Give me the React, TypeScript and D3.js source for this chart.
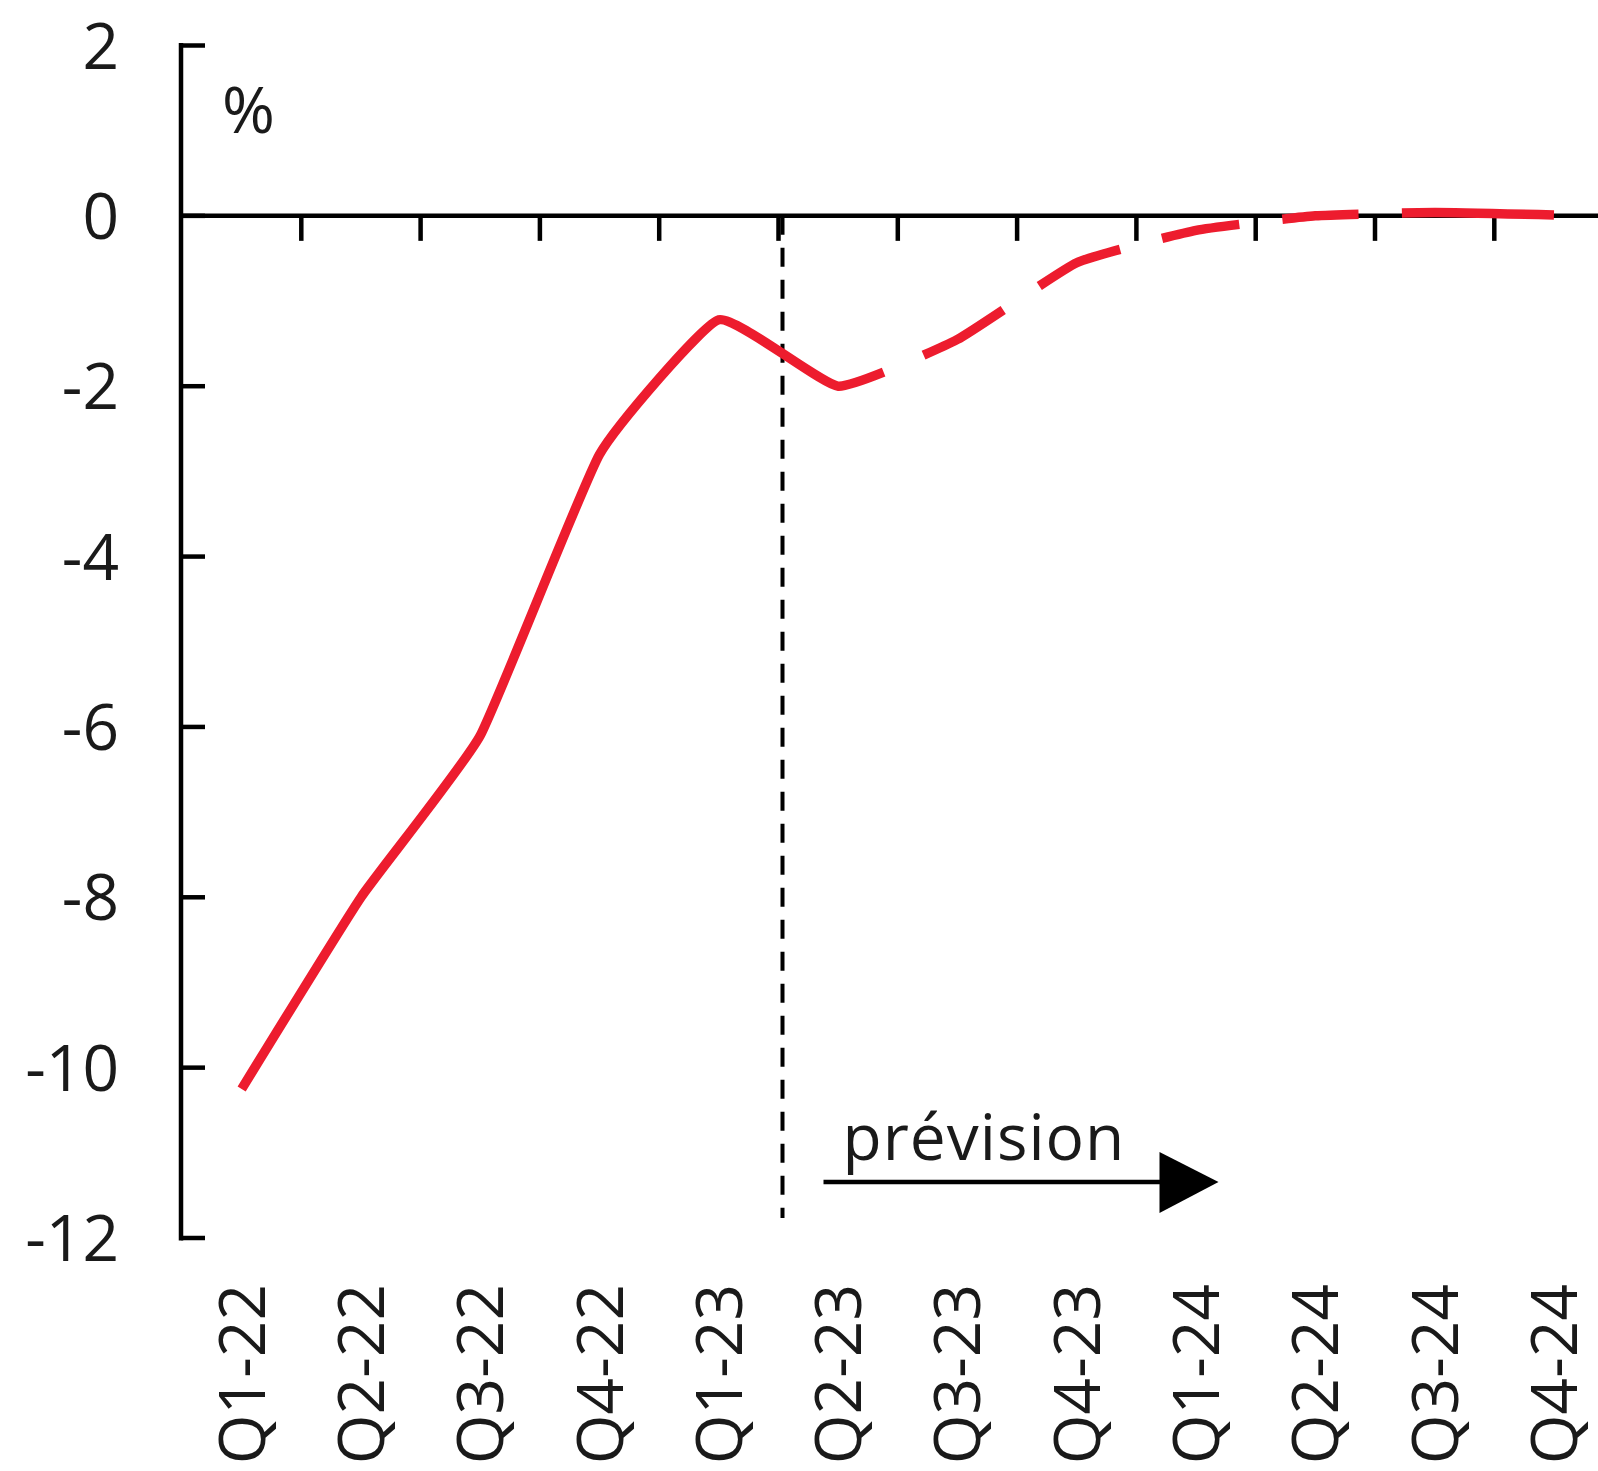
import React, { useEffect, useRef } from 'react';
import * as d3 from 'd3';

const categories = ['Q1-22', 'Q2-22', 'Q3-22', 'Q4-22', 'Q1-23', 'Q2-23', 'Q3-23', 'Q4-23', 'Q1-24', 'Q2-24', 'Q3-24', 'Q4-24'];
const values = [-10.25, -8.0, -6.1, -2.8, -1.22, -2.0, -1.45, -0.55, -0.17, 0.0, 0.04, 0.01];
const yTicks = [2, 0, -2, -4, -6, -8, -10, -12];
const forecastStart = 'Q2-23';
const forecastLabel = 'prévision';
const unitLabel = '%';

const W = 1598;
const H = 1471;
const FONT = "'Open Sans', 'Noto Sans', sans-serif";
const RED = '#ED1C2E';

export default function App() {
  const ref = useRef<SVGSVGElement>(null);

  useEffect(() => {
    const svg = d3.select(ref.current);
    svg.selectAll('*').remove();

    const x0 = 182;
    const step = 119.3;
    const x = d3.scaleBand().domain(categories).range([x0, x0 + step * categories.length]).padding(0);
    const y = d3.scaleLinear().domain([-12, 2]).range([1238, 45.5]);
    const cx = (c: string) => (x(c) as number) + x.bandwidth() / 2;
    const axisX = 181;
    const y0 = y(0);

    // Y axis line
    svg.append('line')
      .attr('x1', axisX).attr('x2', axisX)
      .attr('y1', y(2) - 2.5).attr('y2', y(-12) + 2.5)
      .attr('stroke', '#000').attr('stroke-width', 4.5);

    // Y ticks + labels
    yTicks.forEach((t) => {
      svg.append('line')
        .attr('x1', axisX).attr('x2', axisX + 24)
        .attr('y1', y(t)).attr('y2', y(t))
        .attr('stroke', '#000').attr('stroke-width', 4.5);
      svg.append('text')
        .attr('x', 119).attr('y', y(t)).attr('dy', '0.36em')
        .attr('text-anchor', 'end')
        .attr('font-family', FONT).attr('font-size', 64).attr('fill', '#1a1a1a')
        .text(String(t));
    });

    // X axis line at zero
    svg.append('line')
      .attr('x1', axisX).attr('x2', W)
      .attr('y1', y0).attr('y2', y0)
      .attr('stroke', '#000').attr('stroke-width', 4.5);

    // X ticks at band boundaries
    categories.slice(1).forEach((c) => {
      const xb = x(c) as number;
      svg.append('line')
        .attr('x1', xb).attr('x2', xb)
        .attr('y1', y0).attr('y2', y0 + 25)
        .attr('stroke', '#000').attr('stroke-width', 4.5);
    });

    // X labels (rotated)
    categories.forEach((c) => {
      svg.append('text')
        .attr('transform', `translate(${cx(c)},1284) rotate(-90)`)
        .attr('dy', '0.36em')
        .attr('text-anchor', 'end')
        .attr('font-family', FONT).attr('font-size', 64).attr('fill', '#1a1a1a')
        .text(c);
    });

    // Unit label
    svg.append('text')
      .attr('x', 222).attr('y', 133)
      .attr('font-family', FONT).attr('font-size', 64).attr('fill', '#1a1a1a')
      .text(unitLabel);

    // Forecast vertical dashed line
    const xv = (x(forecastStart) as number) + 4;
    svg.append('line')
      .attr('x1', xv).attr('x2', xv)
      .attr('y1', y0).attr('y2', 1218)
      .attr('stroke', '#000').attr('stroke-width', 4)
      .attr('stroke-dasharray', '19 13');

    // Forecast label + arrow
    svg.append('text')
      .attr('x', xv + 60).attr('y', 1160)
      .attr('font-family', FONT).attr('font-size', 64).attr('fill', '#1a1a1a')
      .attr('letter-spacing', 1)
      .text(forecastLabel);
    svg.append('line')
      .attr('x1', xv + 41).attr('x2', xv + 390)
      .attr('y1', 1182).attr('y2', 1182)
      .attr('stroke', '#000').attr('stroke-width', 4.5);
    svg.append('path')
      .attr('d', `M${xv + 377},${1152} L${xv + 436},${1182} L${xv + 377},${1213} Z`)
      .attr('fill', '#000');

    // Red line
    const pts: [number, number][] = categories.map((c, i) => [cx(c), y(values[i])]);
    const line = d3.line().curve(d3.curveCardinal.tension(0.6));
    const path = svg.append('path')
      .attr('d', line(pts) as string)
      .attr('fill', 'none')
      .attr('stroke', RED)
      .attr('stroke-width', 9.5)
      .attr('stroke-linejoin', 'round');

    const node = path.node() as SVGPathElement;
    const total = node.getTotalLength();
    const lenAtX = (tx: number) => {
      let lo = 0, hi = total;
      for (let k = 0; k < 40; k++) {
        const mid = (lo + hi) / 2;
        if (node.getPointAtLength(mid).x < tx) lo = mid; else hi = mid;
      }
      return (lo + hi) / 2;
    };
    const fIdx = categories.indexOf(forecastStart);
    const L = pts.map((p) => lenAtX(p[0]));
    const gap = 43;
    const arr: number[] = [];
    let pos = 0;
    for (let i = fIdx; i < pts.length - 2; i++) {
      const mid = (L[i] + L[i + 1]) / 2 + 5;
      const a = mid - gap / 2;
      const b = mid + gap / 2;
      arr.push(a - pos, b - a);
      pos = b;
    }
    arr.push(total - pos + 50, 50);
    path.attr('stroke-dasharray', arr.join(' '));
  }, []);

  return (
    <svg
      ref={ref}
      width={W}
      height={H}
      style={{ position: 'absolute', left: 0, top: 0, background: '#fff' }}
    />
  );
}
